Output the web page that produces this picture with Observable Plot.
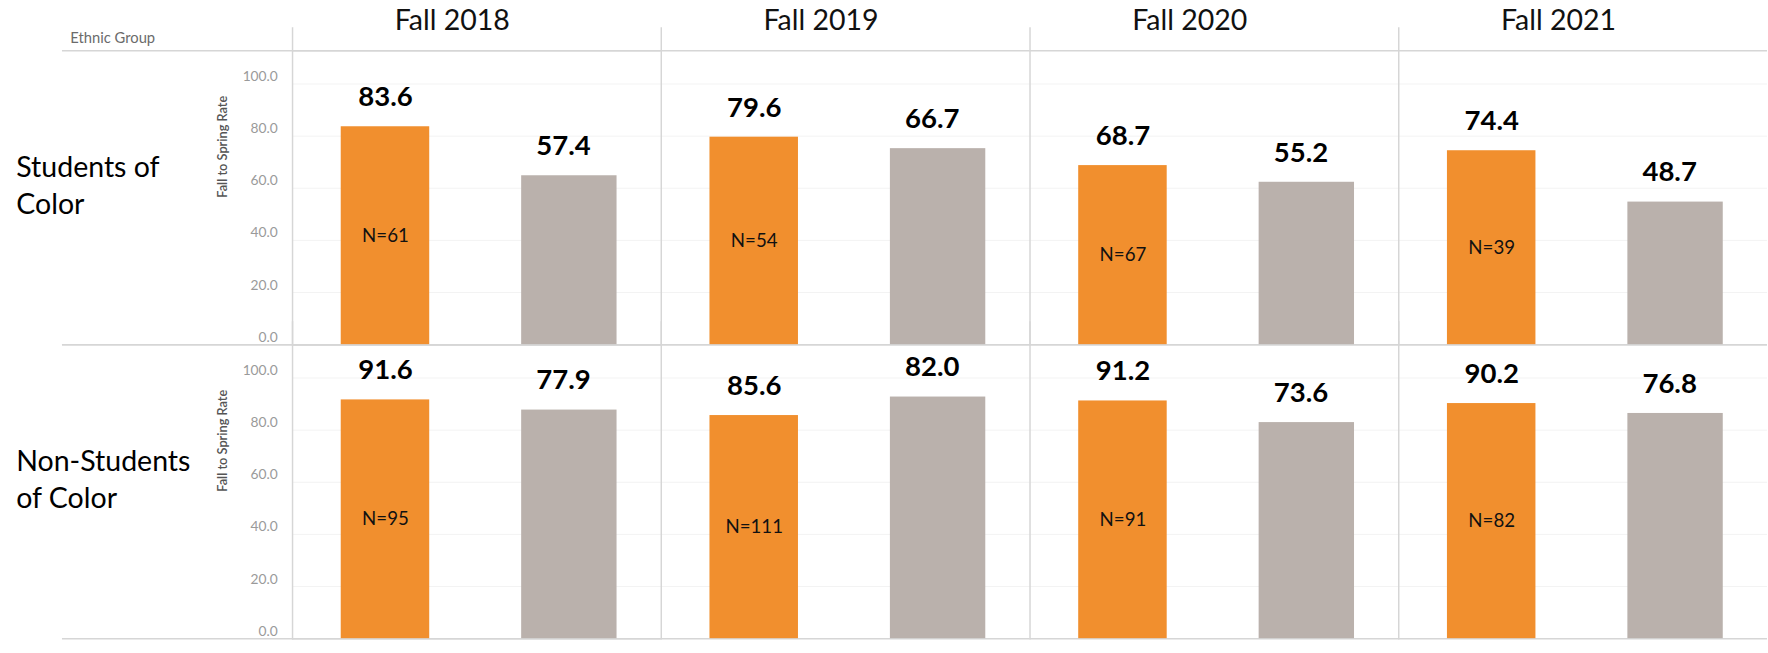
<!DOCTYPE html>
<html>
<head>
<meta charset="utf-8">
<script src="https://cdn.jsdelivr.net/npm/d3@7"></script>
<script src="https://cdn.jsdelivr.net/npm/@observablehq/plot@0.6"></script>
<style>
  html, body { margin: 0; padding: 0; background: #fff; overflow: hidden; }
  #chart { width: 1768px; height: 653px; overflow: hidden; position: relative; }
  #chart svg { display: block; }
</style>
</head>
<body>
<div id="chart"></div>
<script>
// ---- data ----
const years = ["Fall 2018", "Fall 2019", "Fall 2020", "Fall 2021"];
const groups = ["Students of Color", "Non-Students of Color"];
const rowLabelLines = ["Students of\nColor", "Non-Students\nof Color"];
const series = ["Program", "Comparison"];

// orange bars (value labels match bar heights)
const programRateSOC = [83.6, 79.6, 68.7, 74.4];
const programRateNonSOC = [91.6, 85.6, 91.2, 90.2];
const programNSOC = [61, 54, 67, 39];
const programNNonSOC = [95, 111, 91, 82];

// gray bars: printed labels, and bar heights as drawn in the picture
const comparisonRateSOC = [57.4, 66.7, 55.2, 48.7];
const comparisonRateNonSOC = [77.9, 82.0, 73.6, 76.8];
const comparisonBarSOC = [64.8, 75.2, 62.3, 54.7];
const comparisonBarNonSOC = [87.7, 92.7, 82.9, 86.4];

const yTicks = [0, 20, 40, 60, 80, 100];
const yMax = 112.8;

const programRate = [programRateSOC, programRateNonSOC];
const programN = [programNSOC, programNNonSOC];
const comparisonRate = [comparisonRateSOC, comparisonRateNonSOC];
const comparisonBar = [comparisonBarSOC, comparisonBarNonSOC];

const rows = [];
groups.forEach((g, gi) => {
  years.forEach((yr, yi) => {
    rows.push({group: g, year: yr, series: series[0], bar: programRate[gi][yi], label: programRate[gi][yi], n: programN[gi][yi]});
    rows.push({group: g, year: yr, series: series[1], bar: comparisonBar[gi][yi], label: comparisonRate[gi][yi], n: null});
  });
});
const prog = rows.filter(d => d.series === series[0]);
const comp = rows.filter(d => d.series === series[1]);
const rowData = groups.map((g, i) => ({group: g, lines: rowLabelLines[i]}));

const ORANGE = "#F18F2E";
const GRAY = "#BAB1AC";
const LINE = "#d6d6d6";
const FONT = "Lato, 'Open Sans', sans-serif";

const chart = Plot.plot({
  width: 1798,
  height: 653,
  marginLeft: 296,
  marginRight: 0,
  marginTop: 51,
  marginBottom: 4,
  style: {fontFamily: FONT, background: "#fff", overflow: "visible"},
  x: {domain: series, paddingInner: 0, paddingOuter: 0, axis: null},
  y: {domain: [0, yMax]},
  fx: {domain: years, padding: 0},
  fy: {domain: groups, padding: 0, axis: null},
  marks: [
    Plot.gridY({ticks: yTicks.slice(1), stroke: "#000", strokeOpacity: 0.055}),
    Plot.frame({anchor: "left", stroke: LINE, strokeWidth: 1.5, insetTop: -23}),
    Plot.ruleY([0, yMax], {stroke: LINE, strokeWidth: 1.5}),
    Plot.ruleY(groups.flatMap(g => [{group: g, v: 0}, {group: g, v: yMax}]),
      {y: "v", fy: "group", fx: () => years[0], insetLeft: -234, stroke: LINE, strokeWidth: 1.5}),
    Plot.barY(prog, {x: "series", y: "bar", fx: "year", fy: "group", fill: ORANGE, insetLeft: 48.5, insetRight: 48.5}),
    Plot.barY(comp, {x: "series", y: "bar", fx: "year", fy: "group", fill: GRAY, insetLeft: 45, insetRight: 45}),
    Plot.text(prog, {x: "series", y: "bar", fx: "year", fy: "group", text: d => d.label.toFixed(1),
      lineAnchor: "bottom", dy: -21, fontSize: 28, fontWeight: 700, fill: "#000"}),
    Plot.text(comp, {x: "series", y: "bar", fx: "year", fy: "group", text: d => d.label.toFixed(1),
      lineAnchor: "bottom", dy: -21, dx: -6, fontSize: 28, fontWeight: 700, fill: "#000"}),
    Plot.text(prog, {x: "series", y: d => d.bar / 2, fx: "year", fy: "group", text: d => "N=" + d.n,
      fontSize: 19, fill: "#111"}),
    Plot.axisY({ticks: yTicks, tickFormat: d => d.toFixed(1), tickSize: 0, tickPadding: 15,
      fontSize: 14, fill: "#9a9a9a", label: null, lineAnchor: "bottom", dy: -3}),
    Plot.axisFx({anchor: "top", tickSize: 0, tickPadding: 21, fontSize: 29, label: null, dx: -25, fill: "#111", lineAnchor: "bottom"}),
    Plot.text(rowData, {fy: "group", fx: () => years[0], frameAnchor: "left", text: "lines",
      textAnchor: "start", dx: -281, dy: -14, fontSize: 29, lineHeight: 1.3, fill: "#000"}),
    Plot.text(rowData, {fy: "group", fx: () => years[0], frameAnchor: "left", text: () => "Fall to Spring Rate",
      rotate: -90, dx: -71, fontSize: 13, fontWeight: 600, fill: "#555"}),
    Plot.text([groups[0]], {fy: d => d, fx: () => years[0], frameAnchor: "top-left", text: () => "Ethnic Group",
      textAnchor: "start", lineAnchor: "bottom", dx: -226, dy: -8, fontSize: 15, fill: "#6b6b6b"})
  ]
});
document.getElementById("chart").appendChild(chart);
</script>
</body>
</html>
